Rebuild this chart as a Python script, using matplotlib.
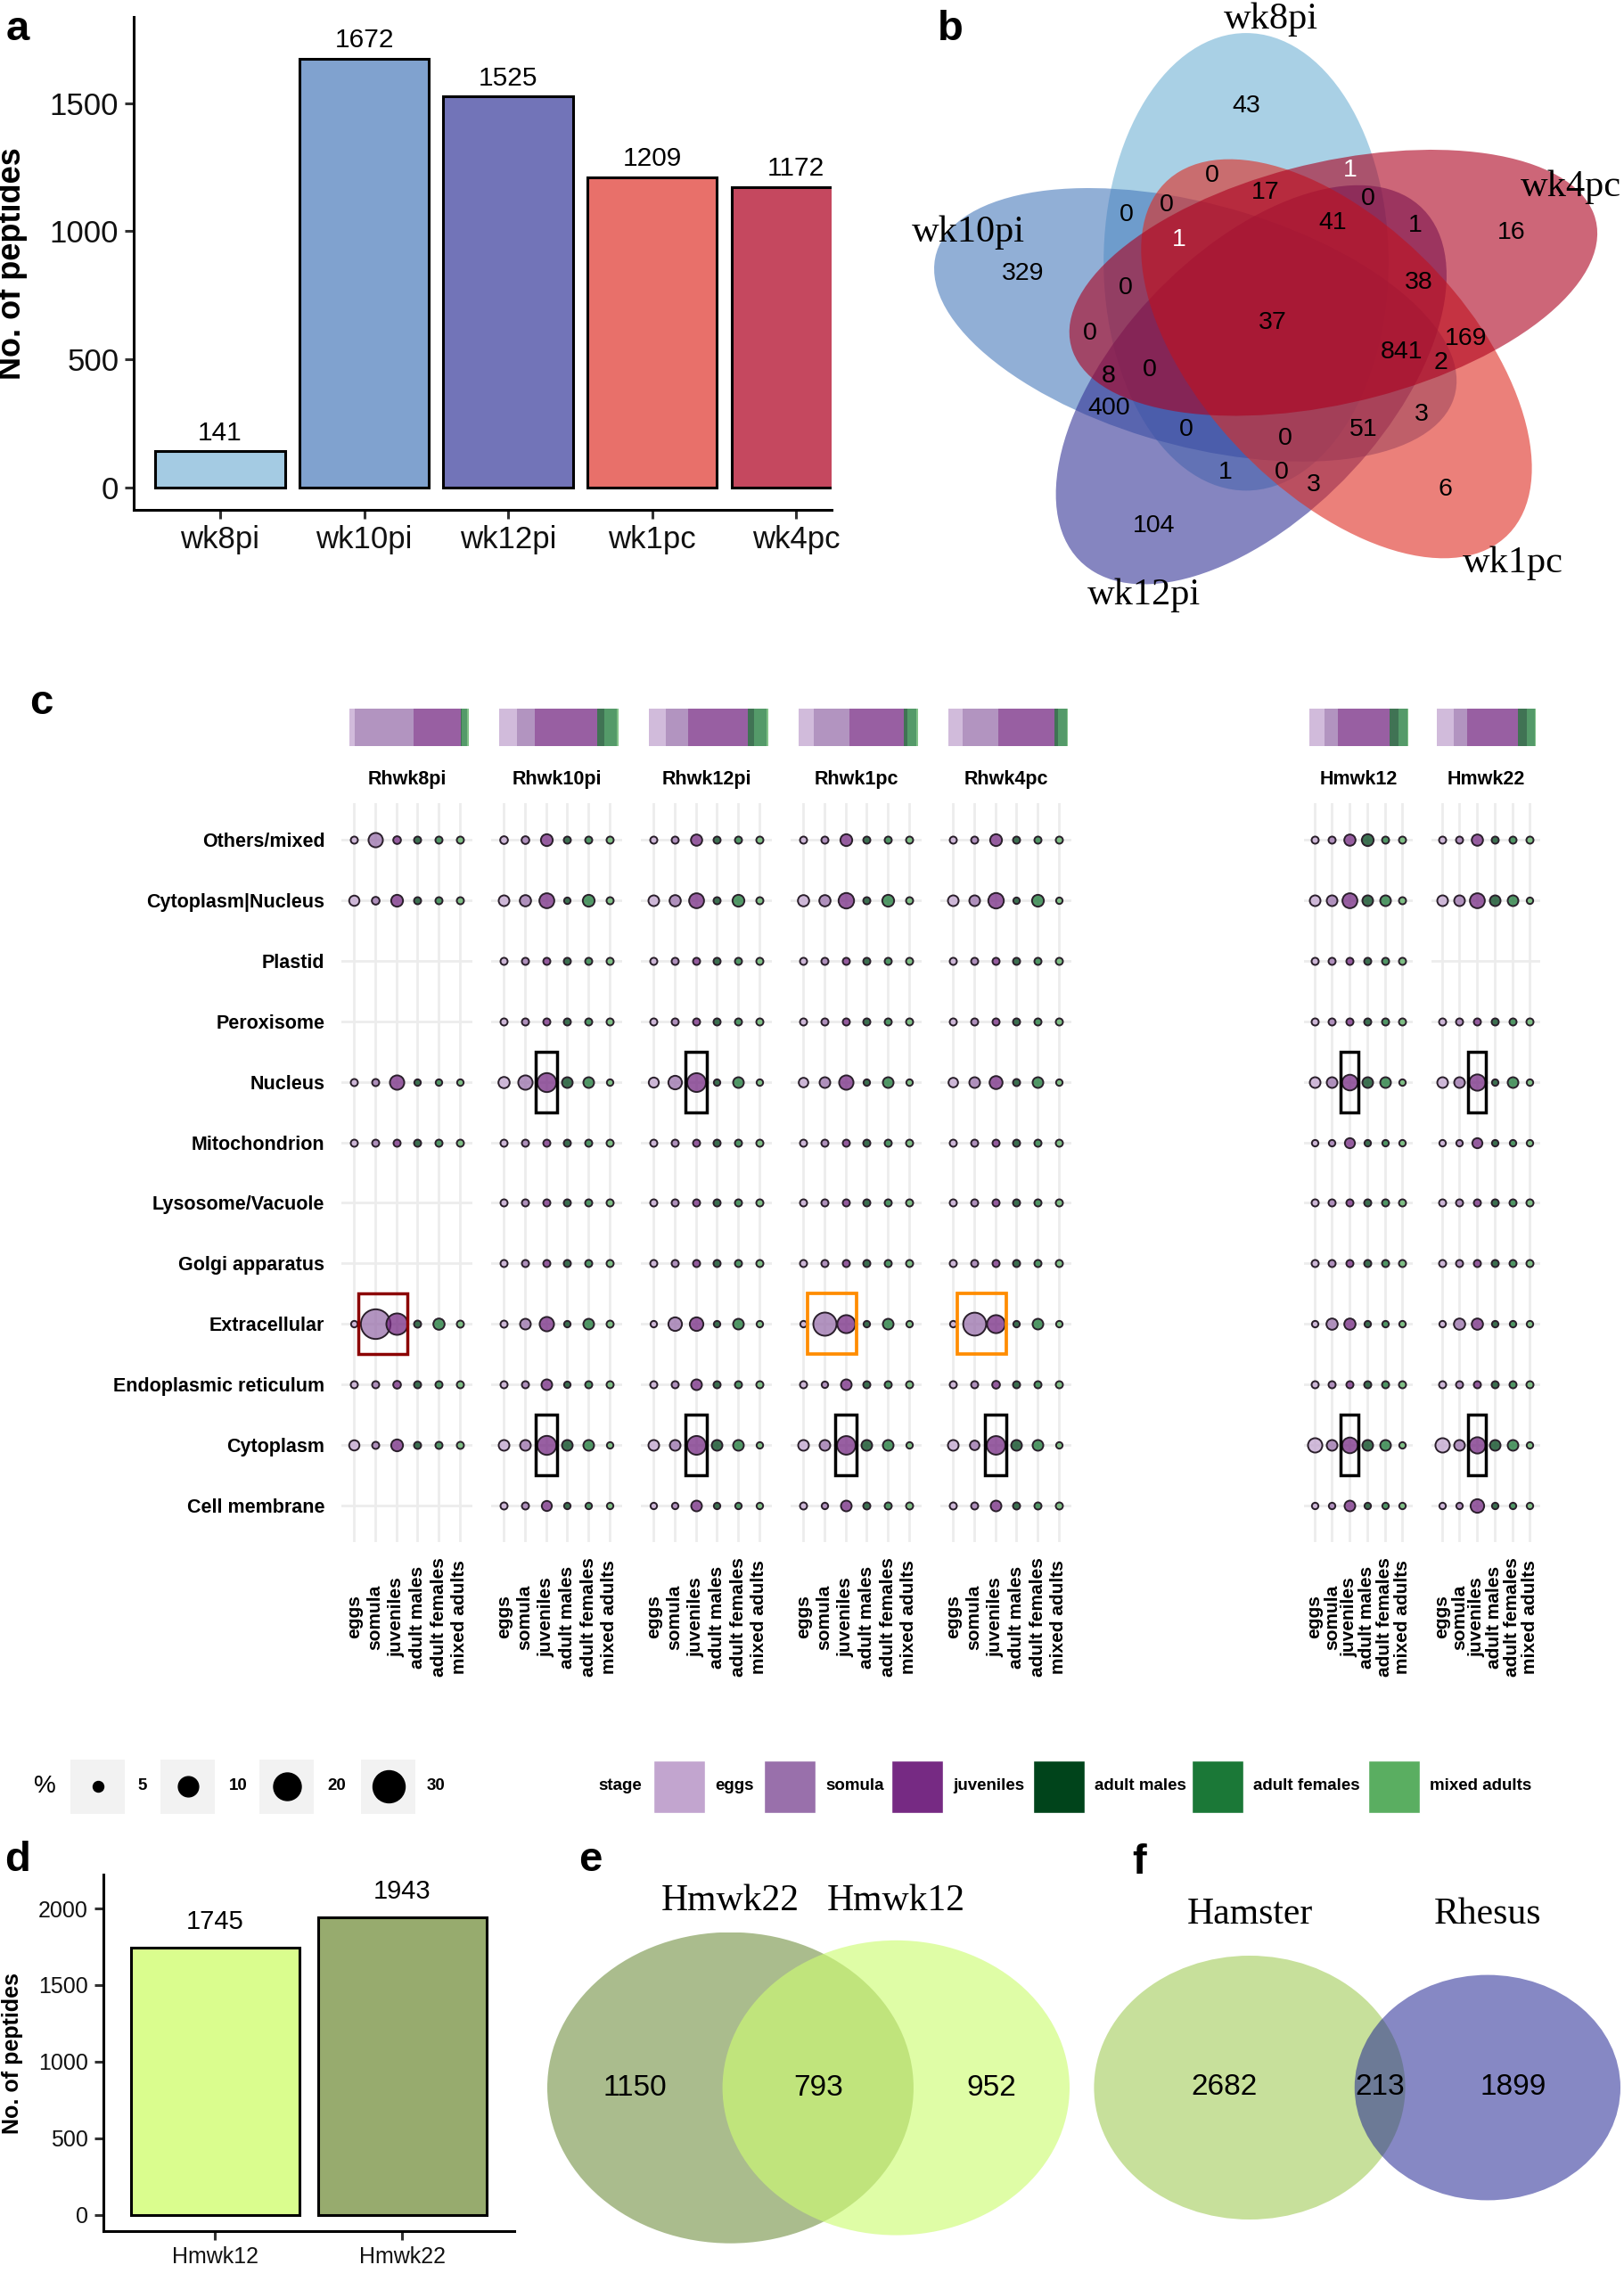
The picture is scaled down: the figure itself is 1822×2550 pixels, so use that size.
import numpy as np
import matplotlib
matplotlib.use('Agg')
import matplotlib.pyplot as plt
from matplotlib.patches import Ellipse, Circle, Rectangle
from matplotlib.colors import to_rgba
import matplotlib.transforms as mtrans

plt.rcParams['font.family'] = ['Liberation Sans', 'DejaVu Sans']
SERIF = ['Liberation Serif', 'DejaVu Serif']

# ======================= DATA =======================
# panel a
a_samples = ['wk8pi', 'wk10pi', 'wk12pi', 'wk1pc', 'wk4pc']
a_counts = [141, 1672, 1525, 1209, 1172]
a_colors = ['#a4cbe3', '#80a2cf', '#7274b8', '#e8706a', '#c5485f']

# panel b (5-set Venn)
venn5_sets = ['wk8pi', 'wk10pi', 'wk12pi', 'wk1pc', 'wk4pc']
venn5_fill = ['#71b1d5', '#487abc', '#343496', '#df2b21', '#ac001e']
venn5_counts = [43, 329, 104, 6, 16, 0, 17, 1, 0, 0, 0, 1, 41, 1, 0, 38, 37, 0,
                841, 169, 2, 8, 0, 400, 3, 0, 51, 0, 1, 0, 3]

# panel c (dot plot)
loc_rows = ['Others/mixed', 'Cytoplasm|Nucleus', 'Plastid', 'Peroxisome', 'Nucleus',
            'Mitochondrion', 'Lysosome/Vacuole', 'Golgi apparatus', 'Extracellular',
            'Endoplasmic reticulum', 'Cytoplasm', 'Cell membrane']
stages = ['eggs', 'somula', 'juveniles', 'adult males', 'adult females', 'mixed adults']
stage_colors = ['#c2a5cf', '#9970ab', '#762a83', '#00441b', '#1b7837', '#5aae61']
panel_names = ['Rhwk8pi', 'Rhwk10pi', 'Rhwk12pi', 'Rhwk1pc', 'Rhwk4pc', 'Hmwk12', 'Hmwk22']

# % per location (rows) x stage (cols); None = location absent
pct_Rhwk8pi = [
    [1, 6.9, 1.7, 1, 1, 1],
    [4.5, 1.7, 5.6, 1, 1, 1],
    None,
    None,
    [1, 1, 6.9, 0.3, 0.3, 0.3],
    [1, 1, 1, 1, 1, 1],
    None,
    None,
    [0.3, 24.6, 11.5, 1, 5.3, 1],
    [1, 1, 1.7, 1, 1, 1],
    [4.5, 1, 5.6, 1, 1, 1],
    None,
]
pct_Rhwk10pi = [
    [1.7, 1.7, 5.6, 1, 1, 1],
    [5, 5.3, 7.2, 0.3, 5.6, 1],
    [1, 1, 1, 1, 1, 1],
    [1, 1, 1, 1, 1, 1],
    [5.3, 6.9, 9.3, 5, 5, 0.3],
    [1, 1, 1, 1, 1, 1],
    [1, 1, 1, 1, 1, 1],
    [1, 1, 1, 1, 1, 1],
    [1, 5, 6.9, 0.3, 5, 1],
    [1, 1, 5, 0.3, 1, 1],
    [5, 5, 9.3, 5, 5, 0.3],
    [1, 1, 4.3, 0.3, 0.3, 0.3],
]
pct_Rhwk12pi = [
    [1, 1, 5.3, 1, 1, 1],
    [5, 5.3, 7.2, 1, 5.6, 1],
    [1, 1, 1, 1, 1, 1],
    [1, 1, 1, 1, 1, 1],
    [4.3, 6.5, 9.2, 0.3, 5, 0.3],
    [1, 1, 1, 1, 1, 1],
    [1, 1, 1, 1, 1, 1],
    [1, 1, 1, 1, 1, 1],
    [0.3, 6.5, 6.5, 0.3, 5, 0.3],
    [1, 1, 5, 1, 1, 1],
    [5, 5, 9.2, 5, 5, 0.3],
    [0.3, 0.3, 5, 0.3, 0.3, 0.3],
]
pct_Rhwk1pc = [
    [1, 1, 5.6, 1, 1, 1],
    [5.3, 5.3, 7.5, 1, 5.6, 1],
    [1, 1, 1, 1, 1, 1],
    [1, 1, 1, 1, 1, 1],
    [3.7, 5, 6.9, 0.3, 5, 0.3],
    [1, 1, 1, 1, 1, 1],
    [1, 1, 1, 1, 1, 1],
    [1, 1, 1, 1, 1, 1],
    [0.3, 13.9, 8.8, 0.3, 5, 0.3],
    [1, 0.3, 5, 1, 1, 1],
    [5, 5, 9.1, 5, 5, 0.3],
    [1, 0.3, 5, 1, 1, 1],
]
pct_Rhwk4pc = [
    [1, 1, 5.6, 1, 1, 1],
    [5, 5, 7.5, 0.3, 5.6, 0.3],
    [1, 1, 1, 1, 1, 1],
    [1, 1, 1, 1, 1, 1],
    [3.7, 5, 6.2, 1, 5, 0.3],
    [1, 1, 1, 1, 1, 1],
    [1, 1, 1, 1, 1, 1],
    [1, 1, 1, 1, 1, 1],
    [0.3, 13.6, 8.8, 0.3, 5, 0.3],
    [1, 1, 1.7, 1, 1, 1],
    [5, 3.7, 9.1, 5, 5, 0.3],
    [1, 1, 5, 1, 1, 1],
]
pct_Hmwk12 = [
    [1, 1, 5.3, 5.6, 1, 1],
    [5, 5, 7.2, 5, 5, 1],
    [1, 1, 1, 1, 1, 1],
    [1, 1, 1, 1, 1, 1],
    [5, 5, 7.6, 5, 5, 0.3],
    [0.3, 0.3, 4.3, 0.3, 0.3, 0.3],
    [1, 1, 1, 1, 1, 1],
    [1, 1, 1, 1, 1, 1],
    [0.3, 5.3, 5.3, 0.3, 0.3, 0.3],
    [1, 1, 1, 1, 1, 1],
    [6.9, 5, 7.6, 5, 5, 0.3],
    [0.3, 0.3, 5, 0.3, 0.3, 0.3],
]
pct_Hmwk22 = [
    [1, 1, 5.3, 1, 1, 1],
    [5, 5, 7.2, 5, 5, 0.3],
    None,
    [1, 1, 1, 1, 1, 1],
    [5, 5, 7.9, 0.3, 5, 0.3],
    [0.3, 0.3, 4.3, 0.3, 0.3, 0.3],
    [1, 1, 1, 1, 1, 1],
    [1, 1, 1, 1, 1, 1],
    [0.3, 5.3, 5.3, 0.3, 0.3, 0.3],
    [1, 1, 1, 1, 1, 1],
    [6.9, 5, 7.9, 5, 5, 0.3],
    [0.3, 0.3, 6.5, 0.3, 0.3, 0.3],
]
panel_pct = [pct_Rhwk8pi, pct_Rhwk10pi, pct_Rhwk12pi, pct_Rhwk1pc, pct_Rhwk4pc, pct_Hmwk12, pct_Hmwk22]

# stage composition (%) shown in the bars above each panel
stack_Rhwk8pi = [4.5, 49.4, 39.2, 0.7, 5.0, 1.2]
stack_Rhwk10pi = [15.0, 15.0, 52.0, 6.0, 10.5, 1.5]
stack_Rhwk12pi = [14.0, 19.0, 50.0, 5.2, 10.5, 1.3]
stack_Rhwk1pc = [12.4, 29.9, 45.8, 3.2, 7.5, 1.2]
stack_Rhwk4pc = [11.7, 30.2, 46.6, 3.0, 7.5, 1.0]
stack_Hmwk12 = [15.0, 13.8, 52.4, 8.7, 9.3, 0.9]
stack_Hmwk22 = [16.8, 13.8, 51.5, 8.7, 8.4, 0.9]
panel_stack = [stack_Rhwk8pi, stack_Rhwk10pi, stack_Rhwk12pi, stack_Rhwk1pc, stack_Rhwk4pc,
               stack_Hmwk12, stack_Hmwk22]

# highlighted cells: (panel, location, style)
highlights = [
    ('Rhwk8pi', 'Extracellular', 'red'),
    ('Rhwk10pi', 'Nucleus', 'black'), ('Rhwk10pi', 'Cytoplasm', 'black'),
    ('Rhwk12pi', 'Nucleus', 'black'), ('Rhwk12pi', 'Cytoplasm', 'black'),
    ('Rhwk1pc', 'Extracellular', 'orange'), ('Rhwk1pc', 'Cytoplasm', 'black'),
    ('Rhwk4pc', 'Extracellular', 'orange'), ('Rhwk4pc', 'Cytoplasm', 'black'),
    ('Hmwk12', 'Nucleus', 'black'), ('Hmwk12', 'Cytoplasm', 'black'),
    ('Hmwk22', 'Nucleus', 'black'), ('Hmwk22', 'Cytoplasm', 'black'),
]

# size legend breaks (%) and their drawn diameters (px)
size_breaks = [5, 10, 20, 30]
size_scale_vals = [0, 5, 10, 20, 30]
size_scale_px = [7, 12, 22.8, 31, 36]

# panel d
d_samples = ['Hmwk12', 'Hmwk22']
d_counts = [1745, 1943]
d_colors = ['#dafd8e', '#97ab6e']

# panel e / f (2-set Venn)
e_sets = ['Hmwk22', 'Hmwk12']
e_only = [1150, 952]
e_both = 793
e_fill = ['#79964a', '#cdfc73']
f_sets = ['Hamster', 'Rhesus']
f_only = [2682, 1899]
f_both = 213
f_fill = ['#99c646', '#202492']

# ======================= FIGURE =======================
W, H = 1822, 2550
fig = plt.figure(figsize=(W / 100, H / 100), dpi=100)
PT = 0.72  # points per pixel


def px_axes(x0, y0, x1, y1):
    return fig.add_axes([x0 / W, 1 - y1 / H, (x1 - x0) / W, (y1 - y0) / H])


def classic(ax, lw=2.2):
    for s in ['top', 'right']:
        ax.spines[s].set_visible(False)
    for s in ['left', 'bottom']:
        ax.spines[s].set_linewidth(lw)
        ax.spines[s].set_color('black')
    ax.tick_params(length=7, width=2.2, color='#333333', labelcolor='#111111', pad=5)


# ---------- panel a (right side cropped as in the original figure) ----------
ax = px_axes(150, 19, 933, 572)
xs = np.arange(1, len(a_samples) + 1)
ax.bar(xs, a_counts, width=0.9, color=a_colors, edgecolor='black', linewidth=2.2, zorder=2)
for x, v in zip(xs, a_counts):
    ax.annotate(str(v), (x, v), xytext=(0, 15), textcoords='offset points',
                ha='center', va='center', fontsize=21.5)
ax.set_xlim(0.4, 0.4 + (933 - 150) / 161.6)
ax.set_ylim(-87, 1836)
ax.set_xticks(xs)
ax.set_xticklabels(a_samples)
ax.set_yticks([0, 500, 1000, 1500])
classic(ax)
ax.tick_params(labelsize=25)
ax.set_ylabel('No. of peptides', fontsize=26, fontweight='bold')
ax.yaxis.set_label_coords(-0.152, 0.5)

# ---------- panel b ----------
axb = px_axes(1000, 0, 1822, 720)
axb.set_xlim(-0.142, 1.092)
axb.set_ylim(-0.1418, 1.1486)
axb.axis('off')
venn5_rot = [0, -110, 145, 35, -72.5]
for k in range(5):
    ang = np.deg2rad(110 + 72 * k)
    c = (0.5 + 0.13 * np.cos(ang), 0.5 + 0.13 * np.sin(ang))
    axb.add_patch(Ellipse(c, 2 * 0.24, 2 * 0.46, angle=venn5_rot[k],
                          facecolor=venn5_fill[k], alpha=0.6, lw=0))
venn5_pos = [(0.456, 0.935), (0.080, 0.599), (0.301, 0.091), (0.791, 0.165), (0.903, 0.680),
             (0.398, 0.795), (0.488, 0.762), (0.631, 0.807), (0.661, 0.749), (0.254, 0.717),
             (0.322, 0.737), (0.342, 0.667), (0.602, 0.700), (0.740, 0.696), (0.253, 0.570),
             (0.747, 0.581), (0.500, 0.499), (0.192, 0.478), (0.718, 0.441), (0.825, 0.467),
             (0.783, 0.420), (0.224, 0.393), (0.293, 0.404), (0.224, 0.327), (0.751, 0.316),
             (0.354, 0.285), (0.653, 0.285), (0.521, 0.266), (0.421, 0.198), (0.515, 0.198),
             (0.570, 0.173)]
white_idx = {7, 11}
for i, ((x, y), v) in enumerate(zip(venn5_pos, venn5_counts)):
    axb.text(x, y, str(v), ha='center', va='center', fontsize=20.5,
             color='white' if i in white_idx else 'black')
venn5_cat_pos = [(0.497, 1.109), (-0.012, 0.681), (0.283, -0.049), (0.905, 0.017), (1.003, 0.772)]
for (x, y), name in zip(venn5_cat_pos, venn5_sets):
    axb.text(x, y, name, ha='center', va='center', fontsize=30.5, family=SERIF)

# ---------- panel c ----------
ROW_TOP, ROW_BOT = 901, 1730
rh_left = [383, 551, 719, 887, 1055]
hm_left = [1463, 1606]
lefts = rh_left + hm_left
widths = [147] * 5 + [122] * 2
stack_off = [9] * 5 + [6] * 2
stack_w = [134] * 5 + [111] * 2
hl_style = {'black': ('black', 2.5, 2.5, 3.5), 'red': ('#8b0000', 2.5, 1.2, 3.5),
            'orange': ('#ff8c00', 2.7, 1.2, 3.5)}


def dot_area(v):
    d = np.interp(v, size_scale_vals, size_scale_px)
    return (d * PT) ** 2


for i, name in enumerate(panel_names):
    left, w = lefts[i], widths[i]
    ax = px_axes(left, ROW_TOP, left + w, ROW_BOT)
    ax.set_xlim(0.4, 6.6)
    ax.set_ylim(11.6, -0.6)
    ax.set_facecolor('none')
    for c in range(1, 7):
        ax.axvline(c, color='#ececec', lw=2, zorder=0)
    for r in range(len(loc_rows)):
        ax.axhline(r, color='#ececec', lw=2, zorder=0)
    for s in ax.spines.values():
        s.set_visible(False)
    ax.set_xticks([])
    if i == 0:
        ax.set_yticks(range(len(loc_rows)))
        ax.set_yticklabels(loc_rows, fontsize=15.5, fontweight='bold')
        ax.tick_params(axis='y', length=0, pad=13.5)
    else:
        ax.set_yticks([])
    vals = panel_pct[i]
    for r, row in enumerate(vals):
        if row is None:
            continue
        for c, v in enumerate(row):
            ax.scatter(c + 1, r, s=dot_area(v), facecolor=to_rgba(stage_colors[c], 0.75),
                       edgecolor='#2a1f2b', linewidth=1.4, zorder=3, clip_on=False)
    for (pn, loc, sty) in highlights:
        if pn != name:
            continue
        r = loc_rows.index(loc)
        col, lw, x0, x1 = hl_style[sty]
        ax.add_patch(Rectangle((x0, r - 0.5), x1 - x0, 1.0, fill=False, edgecolor=col,
                               linewidth=lw, zorder=4, clip_on=False))
    trans = mtrans.blended_transform_factory(ax.transData, ax.transAxes)
    ax.text(3.5, (ROW_BOT - 874) / (ROW_BOT - ROW_TOP), name, transform=trans,
            ha='center', va='center', fontsize=15.5, fontweight='bold')
    ylab = -(1814 - ROW_BOT) / (ROW_BOT - ROW_TOP)
    for c, st in enumerate(stages):
        ax.text(c + 1, ylab, st, transform=trans, rotation=90, ha='center', va='center',
                fontsize=15, fontweight='bold')
    # stacked composition bar
    sax = px_axes(left + stack_off[i], 795, left + stack_off[i] + stack_w[i], 837)
    cum = 0.0
    for c, p in enumerate(panel_stack[i]):
        sax.barh(0, p, left=cum, height=1.0, color=to_rgba(stage_colors[c], 0.75), linewidth=0)
        cum += p
    sax.set_xlim(0, cum)
    sax.set_ylim(-0.5, 0.5)
    sax.axis('off')

# ---------- panel d ----------
ax = px_axes(115.5, 2103, 577, 2503)
xs = np.arange(1, len(d_samples) + 1)
ax.bar(xs, d_counts, width=0.9, color=d_colors, edgecolor='black', linewidth=2.2, zorder=2)
for x, v in zip(xs, d_counts):
    ax.annotate(str(v), (x, v), xytext=(0, 20.5), textcoords='offset points',
                ha='center', va='center', fontsize=21)
ax.set_xlim(0.4, 2.6)
ax.set_ylim(-105, 2221)
ax.set_xticks(xs)
ax.set_xticklabels(d_samples)
ax.set_yticks([0, 500, 1000, 1500, 2000])
classic(ax)
ax.tick_params(labelsize=18)
ax.set_ylabel('No. of peptides', fontsize=18, fontweight='bold')
ax.yaxis.set_label_coords(-0.195, 0.5)


# ---------- panels e, f ----------
def lens_area(r1, r2, d):
    if d >= r1 + r2:
        return 0.0
    if d <= abs(r1 - r2):
        return np.pi * min(r1, r2) ** 2
    a1 = r1 ** 2 * np.arccos((d * d + r1 * r1 - r2 * r2) / (2 * d * r1))
    a2 = r2 ** 2 * np.arccos((d * d + r2 * r2 - r1 * r1) / (2 * d * r2))
    a3 = 0.5 * np.sqrt((-d + r1 + r2) * (d + r1 - r2) * (d - r1 + r2) * (d + r1 + r2))
    return a1 + a2 - a3


def solve_dist(r1, r2, target):
    lo, hi = abs(r1 - r2) + 1e-9, r1 + r2
    for _ in range(200):
        mid = 0.5 * (lo + hi)
        if lens_area(r1, r2, mid) > target:
            lo = mid
        else:
            hi = mid
    return 0.5 * (lo + hi)


def venn2(box, only, both, names, fills, alpha, cat_y):
    nA, nB = only[0] + both, only[1] + both
    rA, rB = np.sqrt(nA / np.pi), np.sqrt(nB / np.pi)
    dist = solve_dist(rA, rB, both)
    ax = px_axes(*box)
    R = max(rA, rB)
    ax.set_xlim(-rA, dist + rB)
    ax.set_ylim(-R, R)
    ax.axis('off')
    ax.add_patch(Circle((0, 0), rA, facecolor=fills[0], alpha=alpha, lw=0))
    ax.add_patch(Circle((dist, 0), rB, facecolor=fills[1], alpha=alpha, lw=0))
    xs = [(-rA + dist - rB) / 2, (dist - rB + rA) / 2, (rA + dist + rB) / 2]
    for x, v in zip(xs, [only[0], both, only[1]]):
        ax.text(x, 0, str(v), ha='center', va='center', fontsize=24)
    trans = mtrans.blended_transform_factory(ax.transData, ax.transAxes)
    for x, nm in zip([0, dist], names):
        ax.text(x, cat_y, nm, transform=trans, ha='center', va='center', fontsize=30,
                family=SERIF, clip_on=False)


venn2((614, 2167.7, 1200, 2516.7), e_only, e_both, e_sets, e_fill, 0.63, 1.099)
venn2((1227.4, 2194, 1818, 2490), f_only, f_both, f_sets, f_fill, 0.54, 1.155)

# ---------- legends & panel letters (overlay) ----------
ov = fig.add_axes([0, 0, 1, 1])
ov.set_xlim(0, W)
ov.set_ylim(H, 0)
ov.axis('off')
ov.patch.set_alpha(0)

LY = 2004
ov.text(50, LY, '%', ha='center', va='center', fontsize=20)
size_box_x = [79, 180, 291, 405]
size_lab_x = [160, 267, 378, 489]
for bx, lx, v in zip(size_box_x, size_lab_x, size_breaks):
    ov.add_patch(Rectangle((bx, LY - 30.5), 61, 61, facecolor='#f2f2f2', edgecolor='none'))
    ov.scatter(bx + 30.5, LY, s=dot_area(v), color='black', zorder=3)
    ov.text(lx, LY, str(v), ha='center', va='center', fontsize=13.5, fontweight='bold')

ov.text(696, LY, 'stage', ha='center', va='center', fontsize=13.5, fontweight='bold')
stage_box_x = [733, 857, 1000, 1159, 1337, 1535]
for bx, st, col in zip(stage_box_x, stages, stage_colors):
    ov.add_patch(Rectangle((bx, LY - 29.5), 58, 59, facecolor=col, edgecolor='white', lw=1))
    ov.text(bx + 69, LY, st, ha='left', va='center', fontsize=13.5, fontweight='bold')

letters = [('a', 20, 33), ('b', 1066, 33), ('c', 46, 789), ('d', 20, 2087),
           ('e', 662, 2087), ('f', 1278, 2090)]
for t, x, y in letters:
    ov.text(x, y, t, ha='center', va='center', fontsize=34, fontweight='bold')

fig.savefig('out.png', dpi=100)
